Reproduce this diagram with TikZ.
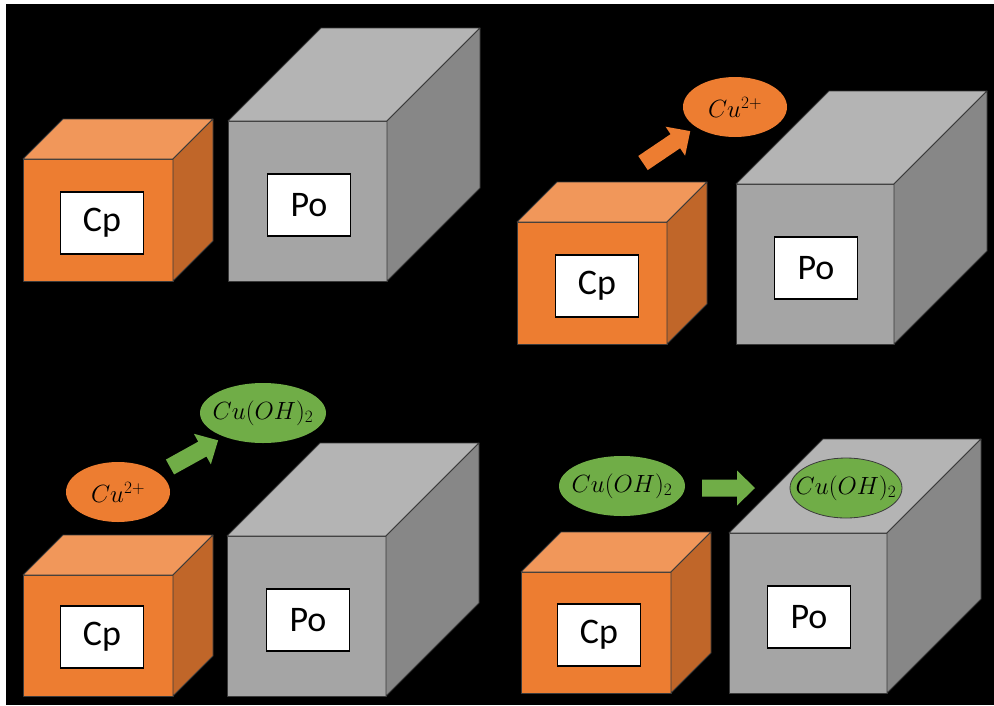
\documentclass[tikz,border=0pt]{standalone}
\usepackage{fontspec}
\setmainfont{Carlito}
\usetikzlibrary{shapes.geometric}

\definecolor{cpFront}{HTML}{ED7D31}
\definecolor{cpTop}{HTML}{F1975A}
\definecolor{cpSide}{HTML}{C06629}
\definecolor{poFront}{HTML}{A5A5A5}
\definecolor{poTop}{HTML}{B4B4B4}
\definecolor{poSide}{HTML}{878787}
\definecolor{ionOrange}{HTML}{ED7D31}
\definecolor{ionGreen}{HTML}{70AD47}
\definecolor{edge}{HTML}{3A3A3A}

% cuboid: name, front top-left x/y, front bottom-right x/y, depth, colour set
\newcommand{\cuboid}[7]{%
  \draw[faceedge, fill=#7Front] (#2,#3) rectangle (#4,#5);
  \draw[faceedge, fill=#7Top] (#2,#3) -- (#4,#3) -- (#4+#6,#3-#6) -- (#2+#6,#3-#6) -- cycle;
  \draw[faceedge, fill=#7Side] (#4,#3) -- (#4+#6,#3-#6) -- (#4+#6,#5-#6) -- (#4,#5) -- cycle;
  \coordinate (#1) at ({(#2+#4)/2},{(#3+#5)/2});
}
% block arrow: tail centre x/y, angle, length, colour
\newcommand{\blockarrow}[5]{%
  \fill[#5, shift={(#1,#2)}, rotate=#3]
    (0,-8.5) -- (#4-18,-8.5) -- (#4-18,-17.5) -- (#4,0) -- (#4-18,17.5) -- (#4-18,8.5) -- (0,8.5) -- cycle;
}

\tikzset{
  faceedge/.style={draw=edge, line width=0.8pt, line join=round},
  tag/.style={draw=black, line width=1.6pt, fill=white, minimum width=83pt,
    minimum height=62pt, inner sep=0pt, font=\fontsize{36}{40}\selectfont},
  ion/.style={ellipse, inner sep=0pt},
  iontext/.style={font=\fontsize{25}{29}\selectfont},
}

\begin{document}
\begin{tikzpicture}[x=1pt, y=-1pt]
  \useasboundingbox (0,0) rectangle (994,705);
  \fill[white] (0,0) rectangle (994,705);
  \fill[black] (6,4) rectangle (994,705);

  % top left: the two blocks side by side
  \cuboid{cpA}{23}{159}{173}{281}{40}{cp}
  \cuboid{poA}{228}{121}{387}{281}{93}{po}
  \node[tag] (cpAtag) at (102,223) {Cp};
  \node[tag] (poAtag) at (309,205) {Po};

  % top right: copper ions leave the Cp block
  \cuboid{cpB}{517}{222}{667}{344}{40}{cp}
  \cuboid{poB}{736}{184}{894}{344}{93}{po}
  \node[tag] (cpBtag) at (597,286) {Cp};
  \node[tag] (poBtag) at (816,268) {Po};
  \blockarrow{643}{163}{34}{57}{ionOrange}
  \node[ion, fill=ionOrange, minimum width=104pt, minimum height=60pt] (cuB) at (735,107) {};
  \node[iontext] at (cuB) {$Cu^{2+}$};

  % bottom left: the ions form copper hydroxide
  \cuboid{cpC}{23}{575}{173}{696}{40}{cp}
  \cuboid{poC}{227}{536}{386}{696}{93}{po}
  \node[tag] (cpCtag) at (102,637) {Cp};
  \node[tag] (poCtag) at (308,620) {Po};
  \node[ion, fill=ionOrange, minimum width=104pt, minimum height=60pt] (cuC) at (118,492) {};
  \node[iontext] at (cuC) {$Cu^{2+}$};
  \blockarrow{170}{467}{29}{55}{ionGreen}
  \node[ion, fill=ionGreen, minimum width=126pt, minimum height=60pt] (ohC) at (263,413) {};
  \node[iontext] at (ohC) {$Cu(OH)_2$};

  % bottom right: the hydroxide settles on the Po block
  \cuboid{cpD}{521}{572}{671}{693}{40}{cp}
  \cuboid{poD}{729}{533}{887}{693}{94}{po}
  \node[tag] (cpDtag) at (599,635) {Cp};
  \node[tag] (poDtag) at (809,617) {Po};
  \node[ion, fill=ionGreen, minimum width=126pt, minimum height=60pt] (ohD) at (622,486) {};
  \node[iontext] at (ohD) {$Cu(OH)_2$};
  \blockarrow{702}{488}{0}{53}{ionGreen}
  \node[ion, fill=ionGreen, draw=edge, line width=0.8pt, minimum width=112pt, minimum height=60pt] (ohE) at (846,488) {};
  \node[iontext] at (ohE) {$Cu(OH)_2$};
\end{tikzpicture}
\end{document}
